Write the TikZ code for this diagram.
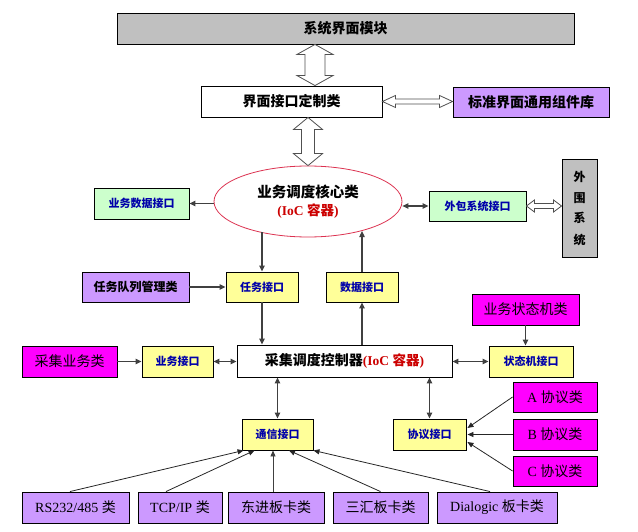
\documentclass[tikz,border=0pt]{standalone}
\usepackage{fontspec}
\setmainfont{Liberation Serif}
\newfontfamily\cjk{Noto Sans CJK SC}
\usetikzlibrary{arrows.meta,shapes.geometric,calc}

\definecolor{boxgray}{RGB}{192,192,192}
\definecolor{lav}{RGB}{204,153,255}
\definecolor{mag}{RGB}{255,0,255}
\definecolor{lyel}{RGB}{255,255,153}
\definecolor{lgrn}{RGB}{204,255,204}
\definecolor{tblue}{RGB}{0,0,170}
\definecolor{tred}{RGB}{204,0,0}
\definecolor{ellred}{RGB}{220,50,80}
\definecolor{linegray}{RGB}{64,64,64}
\definecolor{hollowgray}{RGB}{80,80,80}

% hollow double arrows
\newcommand\hollowvert[5]{\draw[hollow] (#1) -- ($(#1)+(#3,#5)$) -- ($(#1)+(#4,#5)$) -- ($(#2)+(#4,-#5)$) -- ($(#2)+(#3,-#5)$) -- (#2) -- ($(#2)+(-#3,-#5)$) -- ($(#2)+(-#4,-#5)$) -- ($(#1)+(-#4,#5)$) -- ($(#1)+(-#3,#5)$) -- cycle;}
\newcommand\hollowhorz[5]{\draw[hollow] (#1) -- ($(#1)+(#5,-#3)$) -- ($(#1)+(#5,-#4)$) -- ($(#2)+(-#5,-#4)$) -- ($(#2)+(-#5,-#3)$) -- (#2) -- ($(#2)+(-#5,#3)$) -- ($(#2)+(-#5,#4)$) -- ($(#1)+(#5,#4)$) -- ($(#1)+(#5,#3)$) -- cycle;}

\begin{document}
\begin{tikzpicture}[x=1pt,y=-1pt,
  box/.style={draw=black, line width=0.9pt, inner sep=0pt, align=center},
  graybox/.style={box, fill=boxgray},
  lavbox/.style={box, fill=lav},
  magbox/.style={box, fill=mag},
  yelbox/.style={box, fill=lyel},
  grnbox/.style={box, fill=lgrn},
  whitebox/.style={box, fill=white},
  big/.style={font=\cjk\bfseries\fontsize{14}{16}\selectfont},
  med/.style={font=\cjk\bfseries\fontsize{12}{14}\selectfont},
  plain/.style={font=\fontsize{14}{16}\selectfont},
  iftext/.style={font=\cjk\bfseries\fontsize{11}{13}\selectfont, text=tblue},
  hollow/.style={draw=hollowgray, line width=0.8pt, fill=white, line join=miter},
  arr/.style={draw=linegray, line width=1.1pt, -{Triangle[length=6pt,width=5.5pt]}},
  darr/.style={draw=linegray, line width=1.1pt, {Triangle[length=6pt,width=5.5pt]}-{Triangle[length=6pt,width=5.5pt]}},
  fan/.style={draw=black!85, line width=0.8pt, -{Triangle[length=6pt,width=5pt]}}
]
\useasboundingbox (0,0) rectangle (638,532);

% top
\node[graybox, big, minimum width=457pt, minimum height=31pt] (sys) at (345.5,28.5) {系统界面模块};
\node[whitebox, big, minimum width=181pt, minimum height=31pt] (iface) at (291.5,101.5) {界面接口定制类};
\node[lavbox, big, minimum width=156pt, minimum height=30pt] (std) at (531,102) {标准界面通用组件库};

% core ellipse
\node[ellipse, draw=ellred, line width=0.8pt, fill=white, inner sep=0pt,
      minimum width=188pt, minimum height=71pt, align=center] (core) at (308,201.5)
  {{\cjk\bfseries\fontsize{14.5}{16}\selectfont 业务调度核心类}\\[4pt]
   {\color{tred}\bfseries\fontsize{13.5}{15}\selectfont (IoC {\cjk 容器})}};

\node[grnbox, iftext, minimum width=95pt, minimum height=31pt] (sjjk) at (141.5,203.5) {业务数据接口};
\node[grnbox, iftext, minimum width=97pt, minimum height=30pt] (wb) at (477.5,206) {外包系统接口};
\node[graybox, font=\cjk\bfseries\fontsize{12}{21}\selectfont, minimum width=35pt, minimum height=98pt] (ww) at (579.5,208) {外\\围\\系\\统};

% middle
\node[lavbox, med, minimum width=107pt, minimum height=30pt] (rq) at (135.5,287) {任务队列管理类};
\node[yelbox, iftext, minimum width=72pt, minimum height=30pt] (rw) at (262,287) {任务接口};
\node[yelbox, iftext, minimum width=72pt, minimum height=30pt] (sj) at (362,287) {数据接口};
\node[magbox, plain, minimum width=107pt, minimum height=31pt] (zj) at (525.5,309.5) {\cjk 业务状态机类};

\node[magbox, plain, minimum width=95pt, minimum height=31pt] (cj) at (69.5,361.5) {\cjk 采集业务类};
\node[yelbox, iftext, minimum width=71pt, minimum height=31pt] (yw) at (177.5,361.5) {业务接口};
\node[whitebox, minimum width=215pt, minimum height=32pt] (ctl) at (344.5,361)
  {{\cjk\bfseries\fontsize{14}{16}\selectfont 采集调度控制器}{\color{tred}\bfseries\fontsize{13.5}{15}\selectfont (IoC {\cjk 容器})}};
\node[yelbox, iftext, minimum width=84pt, minimum height=31pt] (zt) at (531,361.5) {状态机接口};

% lower
\node[yelbox, iftext, minimum width=71pt, minimum height=31pt] (tx) at (277.5,434.5) {通信接口};
\node[yelbox, iftext, minimum width=73pt, minimum height=31pt] (xy) at (429.5,434.5) {协议接口};
\node[magbox, plain, minimum width=84pt, minimum height=30pt] (pa) at (555,397) {A {\cjk 协议类}};
\node[magbox, plain, minimum width=84pt, minimum height=31pt] (pb) at (555,434.5) {B {\cjk 协议类}};
\node[magbox, plain, minimum width=84pt, minimum height=30pt] (pc) at (555,471) {C {\cjk 协议类}};

% bottom
\node[lavbox, plain, minimum width=107pt, minimum height=31pt] (rs) at (75.5,507.5) {RS232/485 {\cjk 类}};
\node[lavbox, plain, minimum width=84pt, minimum height=31pt] (tcp) at (180,507.5) {TCP/IP {\cjk 类}};
\node[lavbox, plain, minimum width=96pt, minimum height=31pt] (dj) at (276,507.5) {\cjk 东进板卡类};
\node[lavbox, plain, minimum width=95pt, minimum height=31pt] (sh) at (380.5,507.5) {\cjk 三汇板卡类};
\node[lavbox, plain, minimum width=120pt, minimum height=31pt] (dl) at (497,507.5) {Dialogic {\cjk 板卡类}};

% hollow arrows
\coordinate (hx1) at (315,0);
\coordinate (h1a) at (sys.south -| hx1);
\coordinate (h1b) at (iface.north -| hx1);
\hollowvert{h1a}{h1b}{18}{10}{10}
\coordinate (h2a) at (iface.south -| core.north);
\coordinate (h2b) at (core.north);
\hollowvert{h2a}{h2b}{14.5}{6.5}{12}
\coordinate (h3a) at (iface.east);
\coordinate (h3b) at (std.west |- iface.east);
\hollowhorz{h3a}{h3b}{6}{2.5}{13}
\coordinate (h4a) at (wb.east);
\coordinate (h4b) at (ww.west |- wb.east);
\hollowhorz{h4a}{h4b}{6}{2.5}{8}

% thin arrows around core
\draw[arr] (core.west |- sjjk.east) -- (sjjk.east);
\draw[darr] (core.east |- wb.west) -- (wb.west);
\draw[arr] (rw.north |- core.213.5) -- (rw.north);
\draw[arr] (sj.north) -- (sj.north |- core.331.8);

% middle arrows
\draw[arr] (rq.east) -- (rw.west);
\draw[arr] (rw.south) -- (rw.south |- ctl.north);
\draw[arr] (sj.south |- ctl.north) -- (sj.south);
\draw[arr] (cj.east) -- (yw.west);
\draw[darr] (yw.east) -- (ctl.west |- yw.east);
\draw[darr] (ctl.east |- zt.west) -- (zt.west);
\draw[arr] (zj.south) -- (zj.south |- zt.north);
\draw[darr] (tx.north |- ctl.south) -- (tx.north);
\draw[darr] (xy.north |- ctl.south) -- (xy.north);

% protocol arrows
\draw[fan] (pa.west) -- ($(xy.east)+(1,-6.5)$);
\draw[fan] (pb.west) -- ($(xy.east)+(1,0)$);
\draw[fan] (pc.west) -- ($(xy.east)+(1,7.5)$);

% communication fan
\draw[fan] ($(rs.north)+(-5.5,0)$) -- ($(tx.south west)+(2,0)$);
\draw[fan] ($(tcp.north)+(-14,0)$) -- ($(tx.south west)+(13,0)$);
\draw[fan, draw=linegray] ($(dj.north)+(-3,0)$) -- ($(tx.south)+(-4.5,0)$);
\draw[fan] (sh.north) -- ($(tx.south)+(11.5,0)$);
\draw[fan] ($(dl.north)+(-7,0)$) -- (tx.south east);
\end{tikzpicture}
\end{document}
